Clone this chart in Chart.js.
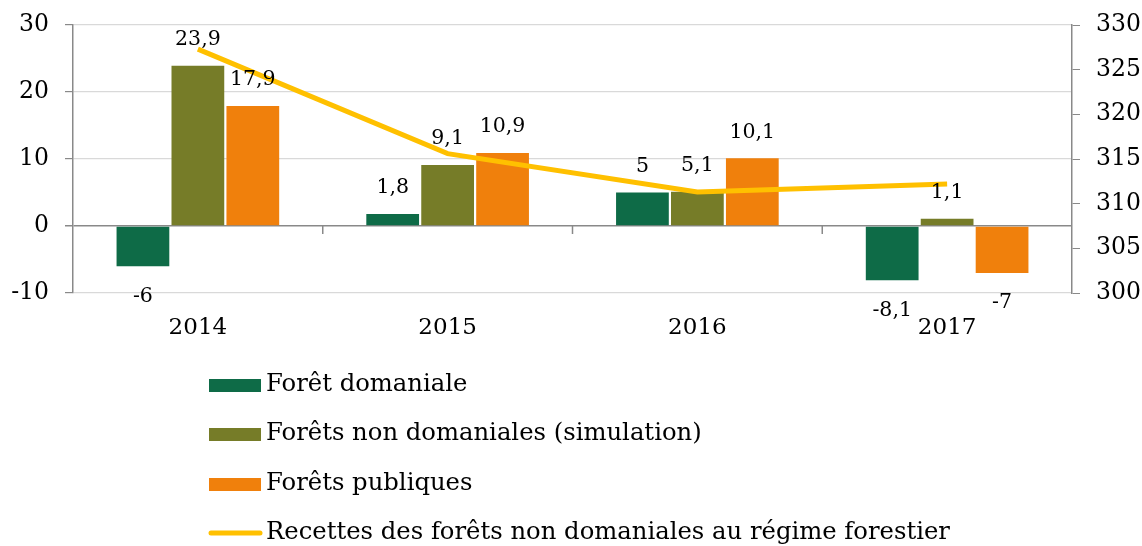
<!DOCTYPE html>
<html>
<head>
<meta charset="utf-8">
<script src="https://cdn.jsdelivr.net/npm/chart.js@4/dist/chart.umd.min.js"></script>
<style>
  body { margin: 0; background: #fff; }
  #wrap { width: 1142px; height: 546px; }
</style>
</head>
<body>
<div id="wrap"><canvas id="myChart" width="1142" height="546"></canvas></div>
<script>
// data
const years = ['2014', '2015', '2016', '2017'];
const domaniale = [-6, 1.8, 5, -8.1];
const nonDomaniales = [23.9, 9.1, 5.1, 1.1];
const publiques = [17.9, 10.9, 10.1, -7];
const recettes = [327.3, 315.6, 311.3, 312.2];

const leftTicks = [-10, 0, 10, 20, 30];
const rightTicks = [300, 305, 310, 315, 320, 325, 330];

const serif = "'DejaVu Serif', 'Liberation Serif', serif";

// data labels on bars
const barLabels = {
    id: 'barLabels',
    afterDatasetsDraw(chart) {
        const ctx = chart.ctx;
        ctx.save();
        ctx.font = '20.5px ' + serif;
        ctx.fillStyle = '#000';
        ctx.textAlign = 'center';
        ctx.textBaseline = 'middle';
        chart.data.datasets.forEach((ds, i) => {
            if (ds.type === 'line') return;
            chart.getDatasetMeta(i).data.forEach((bar, j) => {
                const v = ds.data[j];
                const y = v >= 0 ? bar.y - 26 : bar.y + 30;
                ctx.fillText(String(v).replace('.', ','), bar.x, y);
            });
        });
        ctx.restore();
    }
};

// small tick marks on the zero line between categories
const zeroTicks = {
    id: 'zeroTicks',
    afterDatasetsDraw(chart) {
        const ctx = chart.ctx;
        const x = chart.scales.x;
        const y0 = chart.scales.y.getPixelForValue(0);
        ctx.save();
        ctx.strokeStyle = '#898989';
        ctx.lineWidth = 1.5;
        for (let k = 1; k < years.length; k++) {
            const px = (x.getPixelForTick(k - 1) + x.getPixelForTick(k)) / 2;
            ctx.beginPath();
            ctx.moveTo(px, y0);
            ctx.lineTo(px, y0 + 8);
            ctx.stroke();
        }
        ctx.restore();
    }
};

// vertical legend below the chart
const listLegend = {
    id: 'listLegend',
    afterDraw(chart) {
        const ctx = chart.ctx;
        const rows = [385, 434, 484, 533];
        ctx.save();
        ctx.font = '24.3px ' + serif;
        ctx.textBaseline = 'middle';
        chart.data.datasets.forEach((ds, i) => {
            const y = rows[i];
            if (ds.type === 'line') {
                ctx.strokeStyle = ds.borderColor;
                ctx.lineWidth = 5;
                ctx.lineCap = 'round';
                ctx.beginPath();
                ctx.moveTo(211, y);
                ctx.lineTo(260, y);
                ctx.stroke();
            } else {
                ctx.fillStyle = ds.backgroundColor;
                ctx.fillRect(209, y - 6, 52, 13);
            }
            ctx.fillStyle = '#000';
            ctx.fillText(ds.label, 266, y);
        });
        ctx.restore();
    }
};

const fitY = w => s => { s.width = w; s.paddingTop = 0; s.paddingBottom = 0; };

const ctx = document.getElementById('myChart').getContext('2d');
new Chart(ctx, {
    data: {
        labels: years,
        datasets: [
            {
                type: 'bar',
                label: 'Forêt domaniale',
                data: domaniale,
                backgroundColor: '#0E6B47',
                yAxisID: 'y',
                order: 1
            },
            {
                type: 'bar',
                label: 'Forêts non domaniales (simulation)',
                data: nonDomaniales,
                backgroundColor: '#767C28',
                yAxisID: 'y',
                order: 1
            },
            {
                type: 'bar',
                label: 'Forêts publiques',
                data: publiques,
                backgroundColor: '#F0800C',
                yAxisID: 'y',
                order: 1
            },
            {
                type: 'line',
                label: 'Recettes des forêts non domaniales au régime forestier',
                data: recettes,
                borderColor: '#FFC000',
                borderWidth: 5,
                pointRadius: 0,
                tension: 0,
                fill: false,
                yAxisID: 'y1',
                order: 0
            }
        ]
    },
    options: {
        responsive: false,
        animation: false,
        layout: { padding: { top: 25, bottom: 193, left: 0, right: 0 } },
        datasets: {
            bar: { barPercentage: 0.96, categoryPercentage: 0.66 }
        },
        plugins: {
            legend: { display: false },
            tooltip: { enabled: false }
        },
        scales: {
            x: {
                offset: true,
                grid: { display: false },
                border: { display: false },
                ticks: { color: '#000', font: { family: serif, size: 23 }, padding: 13 },
                afterFit: s => { s.height = 60; s.paddingLeft = 0; s.paddingRight = 0; }
            },
            y: {
                position: 'left',
                min: -10,
                max: 30,
                afterBuildTicks: s => { s.ticks = leftTicks.map(v => ({ value: v })); },
                ticks: { color: '#000', font: { family: serif, size: 23.5 }, padding: 16 },
                grid: {
                    color: c => c.tick && c.tick.value === 0 ? '#898989' : '#d9d9d9',
                    lineWidth: c => c.tick && c.tick.value === 0 ? 1.5 : 1.2,
                    tickLength: 8,
                    tickColor: '#898989'
                },
                border: { color: '#898989', width: 1.5 },
                afterFit: fitY(73)
            },
            y1: {
                position: 'right',
                min: 300,
                max: 330,
                afterBuildTicks: s => { s.ticks = rightTicks.map(v => ({ value: v })); },
                ticks: { color: '#000', font: { family: serif, size: 23.5 }, padding: 16 },
                grid: { drawOnChartArea: false, tickLength: 8, tickColor: '#898989' },
                border: { color: '#898989', width: 1.5 },
                afterFit: fitY(70)
            }
        }
    },
    plugins: [barLabels, zeroTicks, listLegend]
});
</script>
</body>
</html>
